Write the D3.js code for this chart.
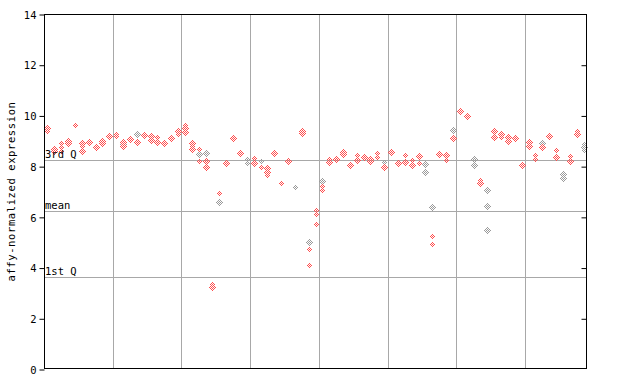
<!DOCTYPE html>
<html><head><meta charset="utf-8">
<script src="https://cdn.jsdelivr.net/npm/d3@7"></script>
<style>body{margin:0;background:#fff;}svg{display:block;}</style>
</head><body>
<script>
// sample values (one entry per sample column)
const redSeries = [
 [9.52,9.38],[8.66,8.6,8.56],[8.92,8.75,8.6],[9.0,8.96,8.92],[9.62],[8.92,8.78,8.6],[8.98,8.94],[8.8,8.75,8.7],
 [9.05,8.98,8.92],[9.2,9.15],[9.27,9.2],[8.95,8.8],[9.06],[8.96],[9.23,9.19],[9.19,9.03],[9.16,8.94],[8.96,8.92],
 [9.1],[9.4,9.27],[9.62,9.5,9.36],[8.9,8.78,8.66],[8.66,8.2],[8.2,7.98],[3.35,3.25,3.2],[6.93],[8.13,8.08],
 [9.1,9.06],[8.52,8.48],[],[8.33,8.11],[7.95],[7.91,7.78,7.65],[8.52,8.48],[7.32],[8.2,8.16],[],[9.38,9.3],
 [4.72,4.09],[6.27,6.1,5.7],[7.22,7.05],[8.3,8.18],[8.3,8.25],[8.57,8.47,8.42],[8.1,8.05],[8.44,8.24],[8.4,8.35],
 [8.27,8.22],[8.53,8.37],[7.95,7.92],[8.56,8.52],[8.17,8.13],[8.44,8.18],[8.24,8.04],[8.4,8.11],[],[5.23,4.93],
 [8.52,8.48],[8.44,8.24],[9.1],[10.21,10.17],[10.01,9.97],[],[7.45,7.35],[],[9.38,9.34,9.16],[9.31,9.27,9.16],
 [9.18,9.14,9.0],[9.14,9.1],[8.04,8.0],[8.98,8.94,8.79],[8.44,8.27],[8.75,8.71],[9.21,9.17],[8.64,8.39,8.35],[],
 [8.4,8.2],[9.4,9.25],[]
];
const greySeries = [
 [],[],[],[],[],[],[],[],[],[],[],[8.88],[],[9.27],[],[],[],[],[],[],[],[],[8.48],[8.5],[],[6.57],[],[],[],
 [8.3,8.11],[],[8.21],[],[],[],[],[7.16],[],[5.0],[],[7.4],[],[],[],[],[],[],[],[],[8.18],[],[],[],[],[],
 [8.08,7.75],[6.38],[],[],[9.42],[],[],[8.28,8.03],[],[7.05,6.42,5.47],[],[],[],[],[],[],[],[8.9],[],[],
 [7.69,7.52],[],[],[8.86,8.75,8.64]
];
const yTicks = [0,2,4,6,8,10,12,14];
const refLines = [{label:"3rd Q", value:8.23},{label:"mean", value:6.22},{label:"1st Q", value:3.62}];
const groupEvery = 10;

const W=640,H=384, L=44, R=587, T=14, B=369;
const n = redSeries.length;
const svg = d3.select("body").append("svg").attr("width",W).attr("height",H);
const defs = svg.append("defs");
function checker(id,color){
  const p = defs.append("pattern").attr("id",id).attr("patternUnits","userSpaceOnUse")
    .attr("width",2).attr("height",2);
  p.append("rect").attr("x",0).attr("y",0).attr("width",1).attr("height",1).attr("fill",color);
  p.append("rect").attr("x",1).attr("y",1).attr("width",1).attr("height",1).attr("fill",color);
}
checker("chkRed","#ff4d4d");
checker("chkGrey","#9a9a9a");

const x = d3.scaleBand().domain(d3.range(n)).range([L,R]);
const y = d3.scaleLinear().domain([0,14]).range([B,T]);

// vertical group lines
const gl = d3.range(groupEvery, n, groupEvery);
svg.append("g").selectAll("line").data(gl).join("line")
  .attr("x1",d=>Math.round(x(d))+0.5).attr("x2",d=>Math.round(x(d))+0.5)
  .attr("y1",T).attr("y2",B).attr("stroke","#a8a8a8").attr("stroke-width",1);
// reference lines
svg.append("g").selectAll("line").data(refLines).join("line")
  .attr("x1",L).attr("x2",R).attr("y1",d=>Math.round(y(d.value))+0.5).attr("y2",d=>Math.round(y(d.value))+0.5)
  .attr("stroke","#a8a8a8").attr("stroke-width",1);

// points
function drawSeries(series, fill){
  const pts = [];
  series.forEach((vals,i)=>vals.forEach(v=>pts.push({i,v})));
  svg.append("g").selectAll("path").data(pts).join("path")
    .attr("d",d=>{
      const cx=Math.round(x(d.i)+x.bandwidth()/2), cy=Math.round(y(d.v));
      return `M${cx+0.5},${cy-3.5}L${cx+4},${cy+0.5}L${cx+0.5},${cy+4.5}L${cx-3},${cy+0.5}Z`;
    })
    .attr("fill",fill).attr("shape-rendering","crispEdges");
}
drawSeries(greySeries,"url(#chkGrey)");
drawSeries(redSeries,"url(#chkRed)");

// ref labels
svg.append("g").selectAll("text").data(refLines).join("text")
  .attr("x",L+1).attr("y",d=>Math.round(y(d.value))-2)
  .attr("font-family","DejaVu Sans Mono").attr("font-size",10.5).attr("fill","#000")
  .text(d=>d.label);

// frame
svg.append("rect").attr("x",L+0.5).attr("y",T+0.5).attr("width",R-L-1).attr("height",B-T-1)
  .attr("fill","none").attr("stroke","#000").attr("stroke-width",1);

// left axis
const ax = d3.axisLeft(y).tickValues(yTicks).tickSize(5).tickPadding(3).tickFormat(d3.format("d"));
const gA = svg.append("g").attr("transform",`translate(${L+0.5},0.5)`).call(ax);
gA.select(".domain").remove();
gA.selectAll("text").attr("font-family","DejaVu Sans Mono").attr("font-size",10.5).attr("fill","#000").attr("dy","0.35em");
gA.selectAll("line").attr("stroke","#000");
// right inner ticks
const axR = d3.axisLeft(y).tickValues(yTicks.slice(1,-1)).tickSize(5).tickFormat("");
const gR = svg.append("g").attr("transform",`translate(${R-0.5},0.5)`).call(axR);
gR.select(".domain").remove();
gR.selectAll("line").attr("stroke","#000");

// y label
svg.append("text").attr("transform",`translate(15,${(T+B)/2}) rotate(-90)`)
  .attr("text-anchor","middle").attr("font-family","DejaVu Sans Mono").attr("font-size",10.5)
  .attr("letter-spacing","0.6").text("affy-normalized expression");
</script>
</body></html>
